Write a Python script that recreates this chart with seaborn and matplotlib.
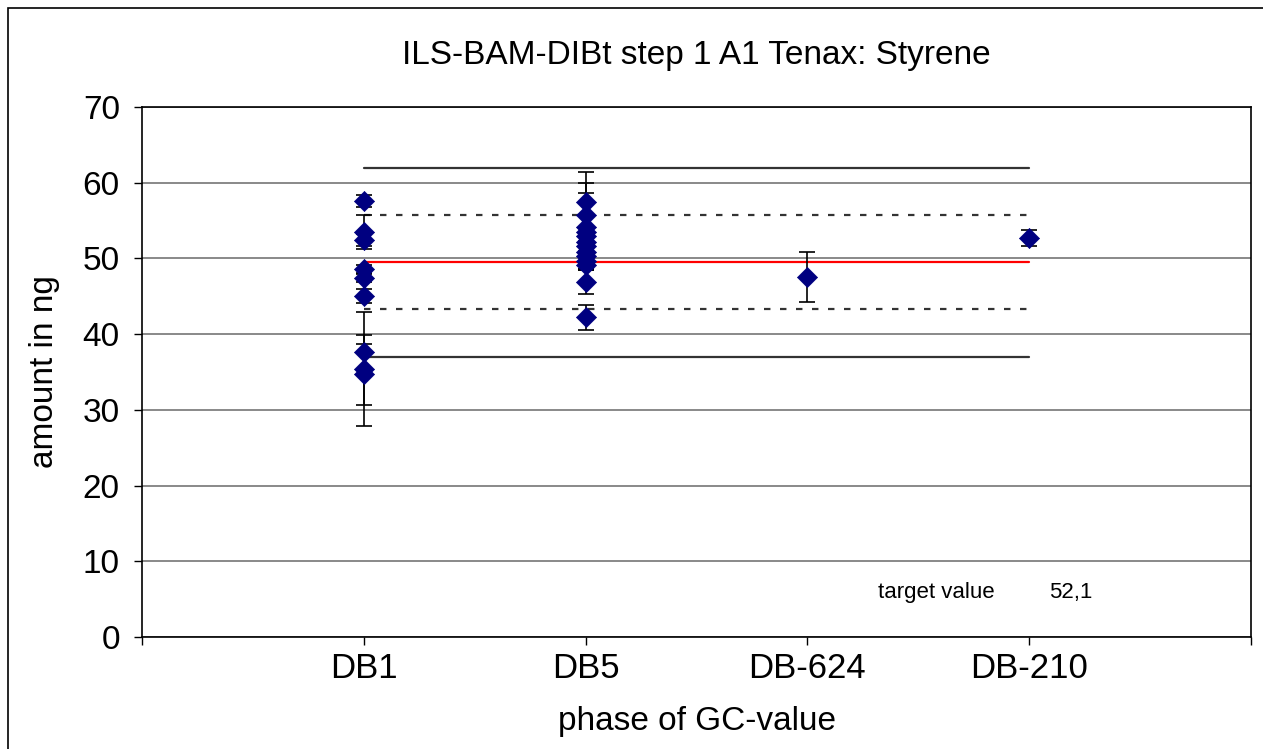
import numpy as np
import pandas as pd
import matplotlib
matplotlib.use("Agg")
import matplotlib.pyplot as plt
import seaborn as sns

# categories of the GC phase
categories = ["DB1", "DB5", "DB-624", "DB-210"]

# single lab results (value, error) per phase
db1_values = [57.6, 53.5, 52.4, 48.6, 47.4, 45.0, 37.6, 35.4, 34.7]
db1_errors = [0.8, 2.2, 0.8, 0.5, 0.5, 0.9, 2.3, 7.5, 4.0]
db5_values = [57.4, 55.7, 54.2, 53.5, 52.9, 52.2, 51.6, 50.9, 50.3, 49.7, 49.1, 46.9, 42.2]
db5_errors = [4.0, 4.2, 4.5, 0.6, 0.6, 0.6, 0.6, 0.6, 1.7, 1.1, 0.6, 1.6, 1.6]
db624_values = [47.5]
db624_errors = [3.3]
db210_values = [52.7]
db210_errors = [1.0]

# reference lines: upper limit, upper dotted, mean, lower dotted, lower limit
ref_values = [62.0, 55.7, 49.5, 43.3, 37.0]
target_value = "52,1"

rows = []
for i, (vals, errs) in enumerate([(db1_values, db1_errors), (db5_values, db5_errors),
                                  (db624_values, db624_errors), (db210_values, db210_errors)]):
    for v, e in zip(vals, errs):
        rows.append({"pos": i + 1, "phase": categories[i], "amount": v, "err": e})
df = pd.DataFrame(rows)

sns.set_style("white")
plt.rcParams["font.family"] = ["Liberation Sans", "DejaVu Sans"]
plt.rcParams["text.color"] = "black"
plt.rcParams["axes.labelcolor"] = "black"
plt.rcParams["xtick.color"] = "black"
plt.rcParams["ytick.color"] = "black"

fig = plt.figure(figsize=(12.63, 7.49), dpi=100)
ax = fig.add_axes([142 / 1263, 1 - 637 / 749, (1251 - 142) / 1263, (637 - 107) / 749])

# outer chart frame
fig.patches.append(plt.Rectangle((8 / 1263, -0.05), 1.2, 1 - 8 / 749 + 0.05,
                                 transform=fig.transFigure, fill=False,
                                 edgecolor="black", linewidth=1.2))

ax.set_ylim(0, 70)
ax.set_xlim(0, 5)
ax.yaxis.grid(True, color="#808080", linewidth=1.3)
ax.set_axisbelow(True)

x0, x1 = 1, len(categories)
styles = [("#333333", "-"), ("#333333", (0, (2.9, 4.3))), ("#ff0000", "-"),
          ("#333333", (0, (2.9, 4.3))), ("#333333", "-")]
for val, (col, ls) in zip(ref_values, styles):
    ax.plot([x0, x1], [val, val], color=col, linestyle=ls, linewidth=1.6, zorder=2)

ax.errorbar(df["pos"], df["amount"], yerr=df["err"], fmt="none", ecolor="black",
            elinewidth=1.2, capsize=6, capthick=1.2, zorder=3)
sns.scatterplot(data=df, x="pos", y="amount", marker="D", s=105, color="#000080",
                edgecolor="#000080", linewidth=0.5, ax=ax, zorder=4, legend=False)

ax.set_xticks(np.arange(0, 6))
ax.set_xticklabels([])
for i, c in enumerate(categories):
    ax.text(i + 1, -2.0, c, ha="center", va="top", fontsize=25)
ax.set_yticks(np.arange(0, 71, 10))
ax.tick_params(axis="y", labelsize=24, length=6, width=1, direction="out", left=True, pad=10)
ax.tick_params(axis="x", length=6, width=1, direction="out", bottom=True)

for s in ax.spines.values():
    s.set_color("black")
    s.set_linewidth(1.2)

ax.set_xlabel("phase of GC-value", fontsize=24, labelpad=40)
ax.set_ylabel("amount in ng", fontsize=24, labelpad=16)
ax.set_title("ILS-BAM-DIBt step 1 A1 Tenax: Styrene", fontsize=24, pad=31)

ax.text(3.32, 5.9, "target value", fontsize=16, ha="left", va="center")
ax.text(4.09, 5.9, target_value, fontsize=16, ha="left", va="center")

fig.savefig("out.png", dpi=100)
